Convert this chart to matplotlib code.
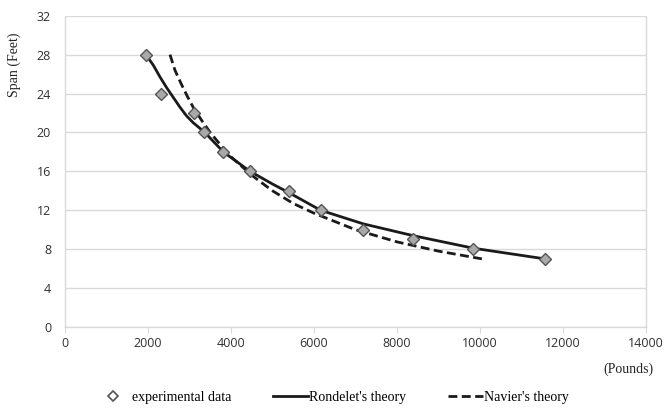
import numpy as np
import matplotlib
matplotlib.use("Agg")
import matplotlib.pyplot as plt
from matplotlib.lines import Line2D

# experimental data (pounds, feet)
exp_load = [1950, 2320, 3100, 3360, 3810, 4460, 5390, 6160, 7190, 8380, 9840, 11570]
exp_span = [28, 24, 22, 20, 18, 16, 14, 12, 10, 9, 8, 7]

# Rondelet's theory
ron_load = [1950, 2130, 2290, 2450, 2610, 2770, 2930, 3090, 3370, 3815, 4460,
            5000, 5400, 6160, 7190, 8380, 9840, 11570]
ron_span = [28.0, 26.9, 25.7, 24.6, 23.6, 22.6, 21.7, 21.0, 20.0, 18.0, 16.0,
            14.7, 13.8, 12.0, 10.6, 9.4, 8.1, 7.0]

# Navier's theory
nav_load = [2530, 2650, 2800, 2950, 3100, 3300, 3500, 3750, 4000, 4500, 5000,
            5500, 6000, 7000, 8000, 9000, 10050]
nav_span = [28.0, 26.4, 25.0, 23.7, 22.5, 21.2, 20.0, 18.7, 17.5, 15.6, 14.0,
            12.7, 11.7, 10.0, 8.75, 7.8, 7.0]

x_ticks = [0, 2000, 4000, 6000, 8000, 10000, 12000, 14000]
y_ticks = [0, 4, 8, 12, 16, 20, 24, 28, 32]

serif = "Liberation Serif"
tick_font = "Open Sans"
grid_col = "#d9d9d9"
line_col = "#1a1a1a"

fig = plt.figure(figsize=(6.65, 4.12), dpi=100)
ax = fig.add_axes([0.0977, 0.2063, 0.8737, 0.7556])

ax.plot(ron_load, ron_span, color=line_col, lw=2.0, zorder=3,
        solid_joinstyle="round")
ax.plot(nav_load, nav_span, color=line_col, lw=2.0, ls=(0, (3.2, 1.6)), zorder=3)
ax.plot(exp_load, exp_span, ls="none", marker="D", ms=6.5, mfc="#a9a9a9",
        mec="#555555", mew=1.0, zorder=4)

ax.set_xlim(0, 14000)
ax.set_ylim(0, 32)
ax.set_xticks(x_ticks)
ax.set_yticks(y_ticks)
ax.grid(axis="y", color=grid_col, lw=1.0)
ax.grid(axis="x", visible=False)
ax.set_axisbelow(True)

for s in ["left", "bottom", "right"]:
    ax.spines[s].set_color(grid_col)
    ax.spines[s].set_linewidth(1.0)
ax.spines["top"].set_visible(False)

ax.tick_params(axis="x", length=4, color=grid_col, pad=3, labelsize=9,
               labelcolor="#303030")
ax.tick_params(axis="y", length=0, pad=10, labelsize=9, labelcolor="#303030")
for lab in ax.get_xticklabels() + ax.get_yticklabels():
    lab.set_family(tick_font)

fig.text(0.022, 0.842, "Span (Feet)", rotation=90, ha="center", va="center",
         fontsize=10, family=serif, color="#222222")
fig.text(0.982, 0.104, "(Pounds)", ha="right", va="center",
         fontsize=10, family=serif, color="#222222")

handles = [
    Line2D([], [], ls="none", marker="D", ms=5, mfc="white", mec="#555555", mew=1.2),
    Line2D([], [], color=line_col, lw=2.0),
    Line2D([], [], color=line_col, lw=2.0, ls=(0, (3.2, 1.6))),
]
labels = ["experimental data", "Rondelet's theory", "Navier's theory"]
fig.legend(handles, labels, loc="center", bbox_to_anchor=(0.5, 0.035), ncol=3,
           frameon=False, prop={"family": serif, "size": 10}, handlelength=2.5,
           handletextpad=0.1, columnspacing=3.0)

fig.savefig("out.png", dpi=100)
